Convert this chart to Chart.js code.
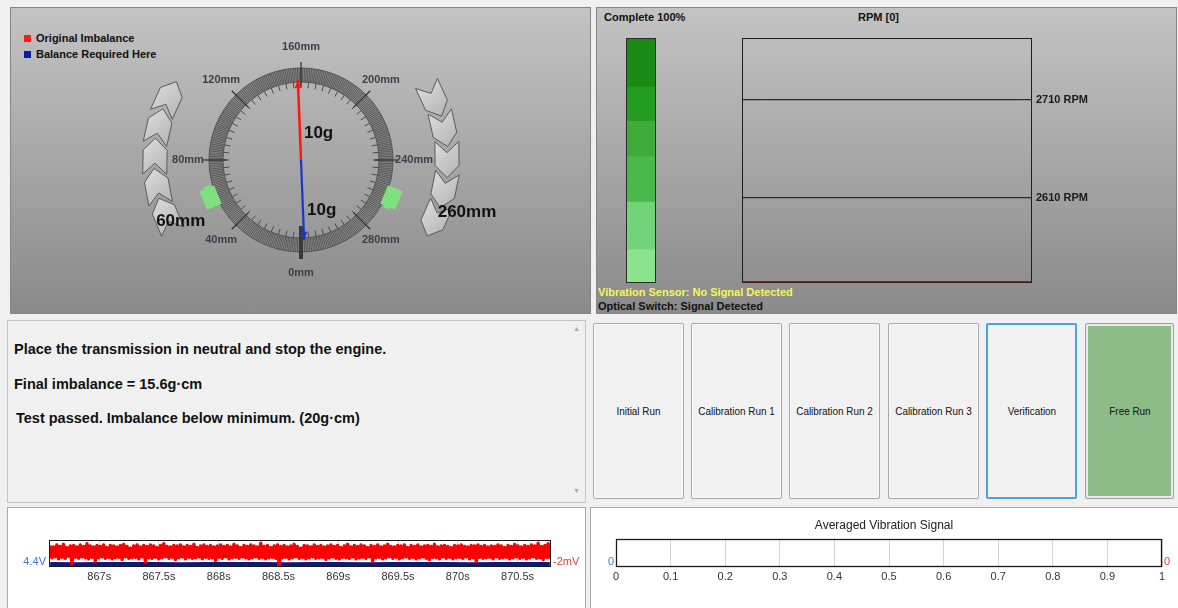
<!DOCTYPE html>
<html><head><meta charset="utf-8">
<script src="https://cdn.jsdelivr.net/npm/chart.js@4.4.0/dist/chart.umd.min.js"></script>
<style>
html,body{margin:0;padding:0;}
body{width:1178px;height:608px;background:#f0f0f0;position:relative;overflow:hidden;font-family:"Liberation Sans",Arial,sans-serif;}
.abs{position:absolute;}
.gpanel{position:absolute;background:linear-gradient(#c3c3c3,#8a8a8a);border:1px solid #858585;box-sizing:border-box;}
.wpanel{position:absolute;background:#fff;border:1px solid #a8a8a8;box-sizing:border-box;}
.t11b{font-size:11px;font-weight:bold;line-height:13px;white-space:nowrap;color:#111;}
.msg{position:absolute;font-size:14.5px;font-weight:bold;line-height:16px;white-space:nowrap;color:#111;}
.btn{position:absolute;top:323px;height:176px;width:91px;border:1px solid #a6a6a6;background:#f1f1f1;box-sizing:border-box;display:flex;align-items:center;justify-content:center;font-size:11px;color:#111;border-radius:2px;box-shadow:inset 0 0 0 1px #fafafa;}
.btn span{display:inline-block;transform:scaleX(0.9);white-space:nowrap;}
.sq{position:absolute;width:7px;height:7px;}
canvas{position:absolute;}
</style></head>
<body>
<!-- panels -->
<div class="gpanel" style="left:10px;top:7px;width:581px;height:307px"></div>
<div class="gpanel" style="left:596px;top:7px;width:581px;height:307px"></div>
<div class="abs" style="left:7px;top:320px;width:579px;height:183px;background:#f0f0f0;border:1px solid #c4c4c4;box-sizing:border-box"></div>
<div class="abs" style="left:569px;top:321px;width:16px;height:181px;background:#f0f0f0;"></div>
<div class="abs" style="left:573px;top:325px;font-size:7px;color:#a8a8a8">&#9650;</div>
<div class="abs" style="left:573px;top:487px;font-size:7px;color:#a8a8a8">&#9660;</div>
<div class="wpanel" style="left:7px;top:507px;width:579px;height:110px"></div>
<div class="wpanel" style="left:590px;top:507px;width:600px;height:110px"></div>

<!-- dial legend -->
<div class="sq" style="left:24px;top:35px;background:#ff1a1a"></div>
<div class="abs t11b" style="left:36px;top:32px">Original Imbalance</div>
<div class="sq" style="left:24px;top:51px;background:#0a1aa8"></div>
<div class="abs t11b" style="left:36px;top:48px">Balance Required Here</div>

<!-- top right texts -->
<div class="abs t11b" style="left:604px;top:11px">Complete 100%</div>
<div class="abs t11b" style="left:858px;top:11px">RPM [0]</div>
<div class="abs t11b" style="left:598px;top:286px;color:#f6f65a">Vibration Sensor: No Signal Detected</div>
<div class="abs t11b" style="left:598px;top:300px;color:#111">Optical Switch: Signal Detected</div>

<!-- messages -->
<div class="msg" style="left:14px;top:341px">Place the transmission in neutral and stop the engine.</div>
<div class="msg" style="left:14px;top:376px">Final imbalance = 15.6g·cm</div>
<div class="msg" style="left:16px;top:410px">Test passed. Imbalance below minimum. (20g·cm)</div>

<!-- buttons -->
<div class="btn" style="left:593px"><span>Initial Run</span></div>
<div class="btn" style="left:691px"><span>Calibration Run 1</span></div>
<div class="btn" style="left:789px"><span>Calibration Run 2</span></div>
<div class="btn" style="left:888px"><span>Calibration Run 3</span></div>
<div class="btn" style="left:986px;border:2px solid #4aa2e4;box-shadow:none"><span>Verification</span></div>
<div class="btn" style="left:1085px;width:89px;background:#8dbc88;border:1px solid #a0a0a0;box-shadow:inset 0 0 0 2px #e9e9e9"><span>Free Run</span></div>

<canvas id="dial" width="580" height="306" style="left:10px;top:7px"></canvas>
<canvas id="prog" width="30" height="245" style="left:626px;top:38px"></canvas>
<canvas id="rpm" width="578" height="304" style="left:597px;top:8px"></canvas>
<canvas id="sig" width="576" height="99" style="left:8px;top:508px"></canvas>
<canvas id="avg" width="586" height="99" style="left:591px;top:508px"></canvas>

<script>
// ---------------- DATA ----------------
const imbalanceAngleMm = [158];
const imbalanceGrams = [10];
const balanceAngleMm = [318];
const balanceGrams = [10];
const dialLabelMm = [0, 40, 80, 120, 160, 200, 240, 280];
const weightMm = [60, 260];

const progressLabels = ['Complete'];
const progressSegments = [13.5, 19.5, 18.5, 14.5, 14, 20];

const rpmTickValues = [2610, 2710];
const rpmLabels = ['', '', '', '', '', '', '', ''];
const rpmValues = [0, 0, 0, 0, 0, 0, 0, 0];

const signalTimeTicks = [867, 867.5, 868, 868.5, 869, 869.5, 870, 870.5];
const signalStartS = 866.59;
const signalEndS = 870.77;
const voltTicks = [4.4];
const milliVoltTicks = [-2];
const redSignalMv = [
1.0,-1.3,0.7,-1.1,1.1,-1.5,0.8,-1.2,1.2,-1.4,0.6,-1.0,0.9,-2.4,1.0,-1.2,0.7,-1.4,1.1,-1.1,
0.8,-1.3,1.3,-1.5,0.9,-1.2,0.7,-1.9,1.0,-1.3,0.8,-1.1,1.1,-1.4,0.6,-1.2,1.0,-1.5,0.9,-1.3,
0.7,-1.2,1.0,-1.6,1.2,-1.1,0.8,-1.4,0.5,-1.3,0.9,-1.2,1.1,-1.5,0.7,-1.1,1.0,-2.1,0.8,-1.3,
1.1,-1.4,0.9,-1.2,0.6,-1.5,1.0,-1.3,1.3,-1.1,0.8,-1.4,0.7,-1.2,1.0,-1.6,0.9,-1.3,1.1,-1.1,
0.7,-1.5,1.0,-1.2,0.8,-1.4,1.2,-1.3,0.6,-1.1,0.9,-1.5,1.1,-1.2,0.8,-1.4,1.0,-1.3,0.7,-1.8,
0.9,-1.2,1.1,-1.4,0.8,-1.1,1.0,-1.5,0.7,-1.3,1.2,-1.2,0.9,-1.4,0.6,-1.1,1.0,-1.3,0.8,-1.5,
1.1,-1.3,0.9,-1.1,0.7,-1.4,1.4,-1.2,0.8,-1.5,1.0,-1.3,0.6,-1.2,0.9,-1.4,1.1,-2.8,0.8,-1.3,
1.0,-1.2,0.7,-1.5,0.9,-1.3,1.2,-1.1,0.8,-1.4,0.5,-1.2,1.0,-1.5,0.9,-1.3,0.7,-1.1,1.1,-1.4,
0.8,-1.3,1.0,-1.2,0.7,-1.6,0.9,-1.3,1.1,-1.1,0.8,-1.4,1.0,-1.5,0.6,-1.2,0.9,-1.3,1.2,-1.4,
0.7,-1.1,1.0,-1.5,0.8,-1.3,1.1,-1.2,0.9,-1.4,0.6,-1.1,1.0,-1.9,0.8,-1.3,1.1,-1.2,0.7,-1.5,
0.9,-1.3,1.2,-1.1,0.8,-1.4,0.7,-1.2,1.0,-1.5,0.9,-1.3,1.1,-1.1,0.6,-1.4,1.0,-1.2,0.8,-1.5,
1.1,-1.3,0.7,-1.1,0.9,-1.4,1.0,-1.6,0.8,-1.2,1.2,-1.3,0.7,-1.5,0.9,-1.1,1.0,-1.4,0.8,-1.2,
0.6,-1.5,1.0,-1.3,0.9,-1.2,1.1,-1.4,0.8,-1.1,0.7,-1.5,1.0,-1.3,0.9,-2.0,1.1,-1.2,0.8,-1.4,
1.0,-1.3,0.7,-1.2,0.9,-1.5,0.8,-1.1,1.1,-1.4,0.9,-1.3,0.6,-1.2,1.0,-1.5,0.8,-1.3,1.2,-1.1,
0.9,-1.4,0.7,-1.2,1.0,-1.5,0.8,-1.3,1.1,-1.1,0.9,-1.4,1.4,-1.3,0.8,-1.6,1.0,-1.2,1.3,-1.5
];
const blueSignalV = [4.22,4.21,4.22,4.23,4.22,4.21,4.22,4.22,4.23,4.21,4.22,4.22,4.21,4.23,4.22,4.22,4.21,4.22,4.23,4.22];

const avgTicks = [0, 0.1, 0.2, 0.3, 0.4, 0.5, 0.6, 0.7, 0.8, 0.9, 1];
const avgZeroTick = [0];
const avgLeftSeries = [];
const avgRightSeries = [];

// ---------------- HELPERS ----------------
const FONT = '"Liberation Sans", Arial, sans-serif';
Chart.defaults.font.family = FONT;
const PX_PER_G = 8;
const MM_PER_TURN = 320;
function polar(mm, r){ const t = mm / MM_PER_TURN * 2 * Math.PI; return {x: -r * Math.sin(t), y: -r * Math.cos(t)}; }
function vec(mm, g){ return [{x:0, y:0}, polar(mm, g * PX_PER_G)]; }

const framePlugin = {
  id: 'frame',
  afterDatasetsDraw(chart, args, o){
    const {left, top, right, bottom} = chart.chartArea; const c = chart.ctx;
    c.save(); c.strokeStyle = o.color || '#222'; c.lineWidth = o.width || 1;
    c.strokeRect(Math.round(left) + 0.5, Math.round(top) + 0.5, Math.round(right - left) - 1, Math.round(bottom - top) - 1);
    if (o.bottomColor){ c.strokeStyle = o.bottomColor; c.lineWidth = 1.5; c.beginPath(); c.moveTo(left + 1, bottom - 1); c.lineTo(right - 1, bottom - 1); c.stroke(); }
    c.restore();
  }
};

// ---------------- DIAL ----------------
const dialPlugin = {
  id: 'dial',
  beforeDatasetsDraw(chart){
    const c = chart.ctx, xs = chart.scales.x, ys = chart.scales.y;
    const k = xs.getPixelForValue(1) - xs.getPixelForValue(0);
    const P = (mm, r) => { const p = polar(mm, r); return [xs.getPixelForValue(p.x), ys.getPixelForValue(p.y)]; };
    const [cx, cy] = P(0, 0);
    c.save();
    // direction chevrons
    const chev = (mm) => {
      const t = mm / MM_PER_TURN * 2 * Math.PI;
      const [px, py] = P(mm, 146);
      const dx = -Math.cos(t), dy = -Math.sin(t); const nx = -dy, ny = dx;
      const pts = [[19,0],[7,12],[-17,12],[-6,0],[-17,-12],[7,-12]];
      c.beginPath();
      pts.forEach(([a,b],i) => { const X = px + (a*dx + b*nx)*k, Y = py + (a*dy + b*ny)*k; i ? c.lineTo(X,Y) : c.moveTo(X,Y); });
      c.closePath();
      const g = c.createLinearGradient(px - 10, py - 10, px + 10, py + 10);
      g.addColorStop(0, '#d6d6d6'); g.addColorStop(1, '#bababa');
      c.fillStyle = g; c.fill(); c.strokeStyle = '#5a5a5a'; c.lineWidth = 1; c.stroke();
    };
    [102, 91.5, 81, 70.5, 60].forEach(chev);
    [218, 228.75, 239.5, 250.25, 261].forEach(chev);
    // ring
    c.beginPath(); c.arc(cx, cy, 92*k, 0, 2*Math.PI); c.arc(cx, cy, 78*k, 0, 2*Math.PI, true);
    c.fillStyle = '#8c8c8c'; c.fill();
    c.strokeStyle = '#4a4a4a'; c.lineWidth = 0.8;
    for (let m = 0; m < MM_PER_TURN; m++){
      const [ax, ay] = P(m, 78), [bx, by] = P(m, 92);
      c.beginPath(); c.moveTo(ax, ay); c.lineTo(bx, by); c.stroke();
    }
    c.lineWidth = 1; c.strokeStyle = '#555';
    c.beginPath(); c.arc(cx, cy, 92*k, 0, 2*Math.PI); c.stroke();
    c.beginPath(); c.arc(cx, cy, 78*k, 0, 2*Math.PI); c.stroke();
    // inward ticks every 5 mm
    c.strokeStyle = '#4a4a4a'; c.lineWidth = 1;
    for (let m = 0; m < MM_PER_TURN; m += 5){
      const [ax, ay] = P(m, 72), [bx, by] = P(m, 78);
      c.beginPath(); c.moveTo(ax, ay); c.lineTo(bx, by); c.stroke();
    }
    // major ticks + labels
    c.font = 'bold 11px ' + FONT; c.fillStyle = '#3d3d4d'; c.textAlign = 'center'; c.textBaseline = 'middle';
    dialLabelMm.forEach(m => {
      const [ax, ay] = P(m, 74), [bx, by] = P(m, 98);
      c.strokeStyle = '#2e2e2e'; c.lineWidth = 1.2;
      c.beginPath(); c.moveTo(ax, ay); c.lineTo(bx, by); c.stroke();
      const [lx, ly] = P(m, 113);
      c.fillText(m + 'mm', lx, ly);
    });
    // weights
    weightMm.forEach(m => {
      const t = m / MM_PER_TURN * 2 * Math.PI;
      const [px, py] = P(m, 98);
      c.save(); c.translate(px, py); c.rotate(Math.atan2(-Math.sin(t), -Math.cos(t)));
      c.fillStyle = '#7fe07f';
      c.fillRect(-10*k, -8*k, 20*k, 16*k);
      c.fillRect(8*k, -3*k, 4*k, 7*k);
      c.restore();
    });
    // weight labels
    c.font = 'bold 17px ' + FONT; c.fillStyle = '#111';
    const [l1x, l1y] = P(weightMm[0] - 4, 135);
    c.fillText(weightMm[0] + 'mm', l1x, l1y);
    const [l2x, l2y] = P(weightMm[1] - 4.5, 174);
    c.fillText(weightMm[1] + 'mm', l2x, l2y);
    // zero pointer
    const [zx1, zy1] = P(0, 66), [zx2, zy2] = P(0, 99);
    c.strokeStyle = '#3a3a3a'; c.lineWidth = 4;
    c.beginPath(); c.moveTo(zx1, zy1); c.lineTo(zx2, zy2); c.stroke();
    c.restore();
  },
  afterDatasetsDraw(chart){
    const c = chart.ctx, xs = chart.scales.x, ys = chart.scales.y;
    const fr = [0.33, 0.63];
    chart.data.datasets.forEach((ds, i) => {
      const a = ds.data[0], b = ds.data[1];
      const ax = xs.getPixelForValue(a.x), ay = ys.getPixelForValue(a.y);
      const bx = xs.getPixelForValue(b.x), by = ys.getPixelForValue(b.y);
      const L = Math.hypot(bx - ax, by - ay), ux = (bx - ax)/L, uy = (by - ay)/L;
      c.save(); c.fillStyle = ds.borderColor;
      c.beginPath(); c.moveTo(bx, by); c.lineTo(bx - ux*8 - uy*3.5, by - uy*8 + ux*3.5); c.lineTo(bx - ux*8 + uy*3.5, by - uy*8 - ux*3.5); c.closePath(); c.fill();
      c.font = 'bold 17px ' + FONT; c.fillStyle = '#111'; c.textAlign = 'left'; c.textBaseline = 'middle';
      c.fillText(ds.valueLabel, ax + (bx - ax)*fr[i] + 4, ay + (by - ay)*fr[i]);
      c.restore();
    });
  }
};

new Chart(document.getElementById('dial'), {
  type: 'scatter',
  data: { datasets: [
    { label: 'Original Imbalance', valueLabel: imbalanceGrams[0] + 'g', data: vec(imbalanceAngleMm[0], imbalanceGrams[0]), showLine: true, borderColor: '#ff1414', borderWidth: 2.5, pointRadius: 0 },
    { label: 'Balance Required Here', valueLabel: balanceGrams[0] + 'g', data: vec(balanceAngleMm[0], balanceGrams[0]), showLine: true, borderColor: '#1a36c8', borderWidth: 2.2, pointRadius: 0 }
  ]},
  options: {
    responsive: false, animation: false, devicePixelRatio: 1, events: [],
    layout: { padding: 0, autoPadding: false },
    plugins: { legend: { display: false }, tooltip: { enabled: false } },
    scales: { x: { type: 'linear', display: false, min: -291, max: 289 }, y: { type: 'linear', display: false, min: -153, max: 153 } }
  },
  plugins: [dialPlugin]
});

// ---------------- PROGRESS ----------------
const progColors = ['#8be48b', '#72d47a', '#4ab84a', '#3fab3a', '#249c22', '#1b8a14'];
new Chart(document.getElementById('prog'), {
  type: 'bar',
  data: { labels: progressLabels, datasets: progressSegments.map((v, i) => ({ data: [v], backgroundColor: progColors[i], borderWidth: 0, barPercentage: 1, categoryPercentage: 1 })) },
  options: {
    responsive: false, animation: false, devicePixelRatio: 1, events: [],
    layout: { padding: 0, autoPadding: false },
    plugins: { legend: { display: false }, tooltip: { enabled: false }, frame: { color: '#2a2a2a' } },
    scales: { x: { stacked: true, display: false }, y: { stacked: true, display: false, min: 0, max: 100 } }
  },
  plugins: [framePlugin]
});

// ---------------- RPM ----------------
new Chart(document.getElementById('rpm'), {
  type: 'line',
  data: { labels: rpmLabels, datasets: [{ label: 'RPM', data: rpmValues, borderColor: '#6a1010', borderWidth: 1.5, pointRadius: 0 }] },
  options: {
    responsive: false, animation: false, devicePixelRatio: 1, events: [],
    layout: { padding: { left: 145, top: 30, bottom: 29, right: 0 }, autoPadding: false },
    plugins: { legend: { display: false }, tooltip: { enabled: false }, frame: { color: '#1e1e1e', bottomColor: '#5a1414' } },
    scales: {
      x: { display: false },
      y: { position: 'right', min: 2523, max: 2773,
        afterBuildTicks: s => { s.ticks = rpmTickValues.map(v => ({ value: v })); },
        afterFit: s => { s.width = 143; },
        grid: { color: '#2a2a2a', drawTicks: false, lineWidth: 1.2 }, border: { display: false },
        ticks: { padding: 4, color: '#1a1a1a', font: { size: 11, weight: 'bold' }, callback: v => v + ' RPM' } }
    }
  },
  plugins: [framePlugin]
});

// ---------------- SIGNAL ----------------
const redStep = (signalEndS - signalStartS) / (redSignalMv.length - 1);
const blueStep = (signalEndS - signalStartS) / (blueSignalV.length - 1);
new Chart(document.getElementById('sig'), {
  type: 'line',
  data: { datasets: [
    { label: 'Vibration (mV)', data: redSignalMv.map((v, i) => ({ x: signalStartS + i*redStep, y: v })), borderColor: '#ff0000', borderWidth: 3.4, borderJoinStyle: 'round', pointRadius: 0, yAxisID: 'yR', tension: 0 },
    { label: 'Optical (V)', data: blueSignalV.map((v, i) => ({ x: signalStartS + i*blueStep, y: v })), borderColor: '#0c1a7a', borderWidth: 4, pointRadius: 0, yAxisID: 'yL', tension: 0 }
  ]},
  options: {
    responsive: false, animation: false, devicePixelRatio: 1, events: [], parsing: false,
    layout: { padding: { top: 32, bottom: 18, left: 0, right: 0 }, autoPadding: false },
    plugins: { legend: { display: false }, tooltip: { enabled: false }, frame: { color: '#1a1a1a' } },
    scales: {
      x: { type: 'linear', min: 866.58, max: 870.78,
        afterBuildTicks: s => { s.ticks = signalTimeTicks.map(v => ({ value: v })); },
        afterFit: s => { s.height = 22; },
        grid: { color: '#d6d6d6', drawTicks: false }, border: { display: false },
        ticks: { padding: 3, color: '#333', font: { size: 11 }, callback: v => v + 's', maxRotation: 0 } },
      yL: { position: 'left', min: 4.0, max: 6.0,
        afterBuildTicks: s => { s.ticks = voltTicks.map(v => ({ value: v })); },
        afterFit: s => { s.width = 41; },
        grid: { display: false, drawTicks: false }, border: { display: false },
        ticks: { padding: 3, color: '#3a78d8', font: { size: 11 }, callback: v => String(v) + 'V' } },
      yR: { position: 'right', min: -3, max: 2,
        afterBuildTicks: s => { s.ticks = milliVoltTicks.map(v => ({ value: v })); },
        afterFit: s => { s.width = 33; },
        grid: { display: false, drawTicks: false }, border: { display: false },
        ticks: { padding: 2, color: '#e8402c', font: { size: 11 }, callback: v => v + 'mV' } }
    }
  },
  plugins: [framePlugin]
});

// ---------------- AVERAGED ----------------
new Chart(document.getElementById('avg'), {
  type: 'line',
  data: { datasets: [
    { label: 'Left', data: avgLeftSeries, yAxisID: 'yL', borderColor: '#3a78d8', pointRadius: 0 },
    { label: 'Right', data: avgRightSeries, yAxisID: 'yR', borderColor: '#e8402c', pointRadius: 0 }
  ]},
  options: {
    responsive: false, animation: false, devicePixelRatio: 1, events: [],
    layout: { padding: { top: 0, bottom: 18, left: 0, right: 0 }, autoPadding: false },
    plugins: { legend: { display: false }, tooltip: { enabled: false }, frame: { color: '#1a1a1a', width: 1.3 },
      title: { display: true, text: 'Averaged Vibration Signal', color: '#222', font: { size: 12, weight: 'normal' }, padding: { top: 10, bottom: 6.6 } } },
    scales: {
      x: { type: 'linear', min: 0, max: 1,
        afterBuildTicks: s => { s.ticks = avgTicks.map(v => ({ value: v })); },
        afterFit: s => { s.height = 22; },
        grid: { color: '#d4d4d4', drawTicks: false }, border: { display: false },
        ticks: { padding: 3, color: '#333', font: { size: 11 }, maxRotation: 0, callback: v => String(v) } },
      yL: { position: 'left', min: -0.2, max: 1,
        afterBuildTicks: s => { s.ticks = avgZeroTick.map(v => ({ value: v })); },
        afterFit: s => { s.width = 25; },
        grid: { display: false, drawTicks: false }, border: { display: false },
        ticks: { padding: 2, color: '#3a78d8', font: { size: 11 }, callback: v => String(v) } },
      yR: { position: 'right', min: -0.2, max: 1,
        afterBuildTicks: s => { s.ticks = avgZeroTick.map(v => ({ value: v })); },
        afterFit: s => { s.width = 15; },
        grid: { display: false, drawTicks: false }, border: { display: false },
        ticks: { padding: 2, color: '#e8402c', font: { size: 11 }, callback: v => String(v) } }
    }
  },
  plugins: [framePlugin]
});
</script>
</body></html>
